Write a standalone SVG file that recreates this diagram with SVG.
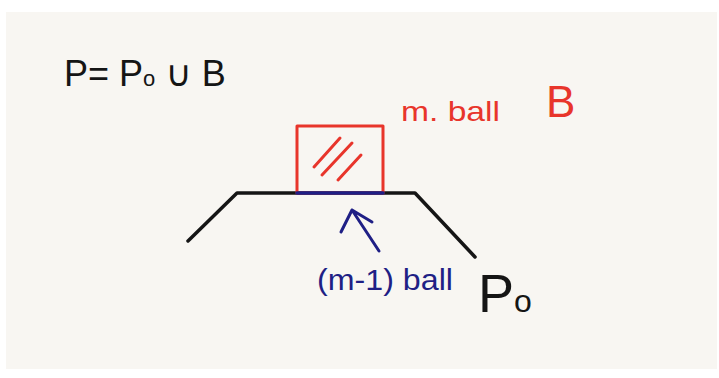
<svg xmlns="http://www.w3.org/2000/svg" width="719" height="378" viewBox="0 0 719 378">
<style>
.ink{fill:none;stroke-linecap:round;stroke-linejoin:round}
.red{stroke:#e8352b}
.blue{stroke:#1f1f85}
.blk{stroke:#151515}
text{font-family:"Liberation Sans","DejaVu Sans",sans-serif}
</style>
<rect x="0" y="0" width="719" height="378" fill="#ffffff"/>
<rect x="6" y="12" width="711" height="357" fill="#f8f6f2"/>
<g id="formula">
<text x="64" y="86" font-size="36" fill="#151515">P= P<tspan font-size="22">o</tspan> ∪ B</text>
</g>
<g id="ground-P0">
<path class="ink blk" stroke-width="3.5" d="M188 241 L237 193 L415 193 L475 257"/>
</g>
<g id="ball-B">
<rect class="ink red" stroke-width="3" x="297" y="126" width="86" height="67"/>
<path class="ink red" stroke-width="3" d="M314 167 L340 138 M322 175 L352 143 M338 180 L361 155"/>
<path class="ink blue" stroke-width="3.5" d="M297 193 L383 193"/>
</g>
<g id="label-mball">
<text x="401" y="121" font-size="28" fill="#e8352b" textLength="99" lengthAdjust="spacingAndGlyphs">m. ball</text>
</g>
<g id="label-B">
<text x="546" y="117" font-size="44" fill="#e8352b">B</text>
</g>
<g id="label-m1ball">
<text x="317" y="290" font-size="30" fill="#1f1f85" textLength="136" lengthAdjust="spacingAndGlyphs">(m-1) ball</text>
</g>
<g id="label-P0">
<text x="478" y="312" font-size="54" fill="#151515">P<tspan font-size="32">o</tspan></text>
</g>
<g id="connectors">
<path class="ink blue" stroke-width="3" d="M379 251 L352 210 M341 232 L352 210 L372 222"/>
</g>
</svg>
